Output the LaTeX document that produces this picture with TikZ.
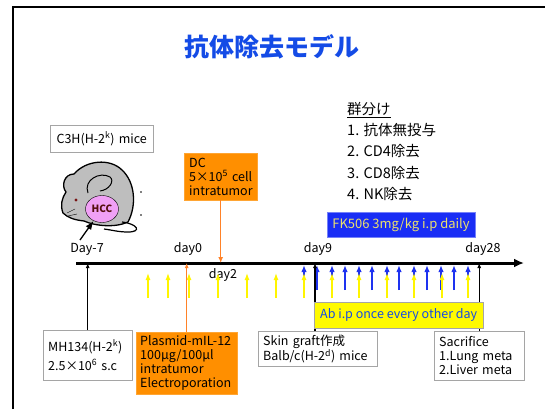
\documentclass[tikz,border=0pt]{standalone}
\usepackage{fontspec}
\setmainfont{Noto Sans CJK JP}
\usetikzlibrary{arrows.meta,shapes.geometric}

\definecolor{ttlblue}{RGB}{20,75,230}
\definecolor{boxorange}{RGB}{255,143,0}
\definecolor{lineorange}{RGB}{255,130,40}
\definecolor{fkblue}{RGB}{25,45,245}
\definecolor{fkyellow}{RGB}{235,225,110}
\definecolor{abyellow}{RGB}{255,250,0}
\definecolor{arryellow}{RGB}{255,245,0}
\definecolor{arrblue}{RGB}{30,50,240}
\definecolor{mousegray}{RGB}{190,190,190}
\definecolor{hccpink}{RGB}{240,160,245}
\definecolor{framegray}{RGB}{165,165,165}
\definecolor{eyered}{RGB}{120,20,20}

\begin{document}
\begin{tikzpicture}
  [x=1pt, y=-1pt, >=Latex,
   txt/.style={font=\fontsize{12.5}{14}\selectfont, inner sep=0pt},
   gbox/.style={draw=framegray, fill=white, anchor=north west, align=left, inner xsep=5pt, inner ysep=2pt, font=\fontsize{12.5}{14}\selectfont},
   obox/.style={gbox, draw=boxorange!80!white, fill=boxorange},
   tick/.style={-{Latex[length=5pt,width=4pt]}, line width=1.1pt},
   yarr/.style={-{Latex[length=7pt,width=5pt]}, line width=1.2pt, arryellow},
   barr/.style={-{Latex[length=7pt,width=5.5pt]}, line width=2.2pt, arrblue}]
  \useasboundingbox (0,0) rectangle (545,409);
  \draw[line width=2pt] (13,409) -- (13,7) -- (545,7);

  \node[font=\bfseries\fontsize{25}{25}\selectfont, text=ttlblue] (title) at (272,47) {抗体除去モデル};

  % mouse
  \node[gbox, align=center, text width=93pt, minimum height=27pt] (c3h) at (50,125) {C3H(H-2\textsuperscript{k}) mice};
  \draw[fill=mousegray, line width=1.3pt, line join=round]
    (63,213) .. controls (60,205) and (62,198) .. (66,192)
    .. controls (61,186) and (64,174) .. (74,174)
    .. controls (86,160) and (110,158) .. (122,170)
    .. controls (135,182) and (137,205) .. (128,222)
    .. controls (115,228) and (95,226) .. (84,221)
    .. controls (75,220) and (68,218) .. (63,213) -- cycle;
  \draw[line width=1pt] (88,193) .. controls (83,180) and (100,171) .. (110,177) .. controls (115,181) and (109,190) .. (100,191);
  \fill[eyered] (76,200) circle (1.6);
  \draw (67,213) -- (75,209) (68,216) -- (77,214);
  \draw[line width=1.2pt] (122,222) .. controls (138,224) and (142,232) .. (128,232) .. controls (118,232) and (112,230) .. (104,229);
  \fill (141,192) circle (0.8) (141,215) circle (0.8);
  \node[draw, ellipse, fill=hccpink, minimum width=33pt, minimum height=27pt, inner sep=0pt, text=eyered!70!black, font=\bfseries\fontsize{10}{10}\selectfont] (hcc) at (102,209) {HCC};
  \coordinate (hccsrc) at (80,240);
  \draw[->, line width=1.3pt] (hccsrc) -- (hcc);

  % timeline
  \coordinate (tl0) at (76,263);
  \coordinate (tl1) at (524,263);
  \coordinate (d9x) at (315,263);
  \draw[-{Latex[length=10pt,width=9pt]}, line width=3pt] (tl0) -- (tl1);
  \node[txt] (dm7) at (87,249) {Day-7};
  \node[txt] (d0) at (188,249) {day0};
  \node[txt] (d9) at (318,249) {day9};
  \node[txt] (d28) at (483,249) {day28};
  \node[txt] (d2) at (223,275) {day2};

  % treatments
  \node[obox, text width=63pt, minimum height=47pt] (dc) at (184,153) {DC\\5×10\textsuperscript{5} cell\\intratumor};
  \node[fill=fkblue, draw=fkblue!60!white, minimum width=148pt, minimum height=25pt, text=fkyellow, font=\fontsize{13}{14}\selectfont] (fk) at (401,224.5) {FK506 3mg/kg i.p daily};
  \node[anchor=north west, align=left, inner sep=0pt, font=\fontsize{14.5}{21.3}\selectfont] (grp) at (347,102) {\underline{群分け}\\1. 抗体無投与\\2. CD4除去\\3. CD8除去\\4. NK除去};

  \foreach \x in {304,317,332,345,359,372,387,399,414,427,441,454,468}
    \draw[barr] (\x,290) -- (\x,265);
  \foreach \x in {148,168,189,218,247,276,304,332,359,387,414,442,468}
    \draw[yarr] (\x,298) -- (\x,273);

  \node[gbox, text width=79pt, minimum height=50pt, font=\fontsize{12.5}{19}\selectfont] (mh) at (43,330) {MH134(H-2\textsuperscript{k})\\2.5×10\textsuperscript{6} s.c};
  \node[obox, inner xsep=4pt, text width=93pt, minimum height=62pt] (pl) at (136,332) {Plasmid-mIL-12\\100μg/100μl\\intratumor\\Electroporation};
  \node[gbox, text width=109pt, minimum height=35pt] (skin) at (258,331) {Skin graft作成\\Balb/c(H-2\textsuperscript{d}) mice};
  \node[gbox, text width=80pt, minimum height=49pt] (sac) at (434,331) {Sacrifice\\1.Lung meta\\2.Liver meta};

  \draw[tick] (mh.north) -- (mh.north |- tl0);
  \draw[tick, lineorange] (pl.north) -- (pl.north |- tl0);
  \draw[-{Latex[length=6pt,width=5pt]}, lineorange, line width=1.2pt] (dc.south) -- (dc.south |- tl0);
  \draw[tick] (skin.north -| d9x) -- (d9x);
  \draw[tick] (sac.north) -- (sac.north |- tl0);

  \node[draw=framegray, fill=abyellow, anchor=north west, minimum width=169pt, minimum height=26pt, text=ttlblue, font=\fontsize{12.5}{14}\selectfont] (ab) at (314,302) {Ab i.p once every other day};
\end{tikzpicture}
\end{document}
